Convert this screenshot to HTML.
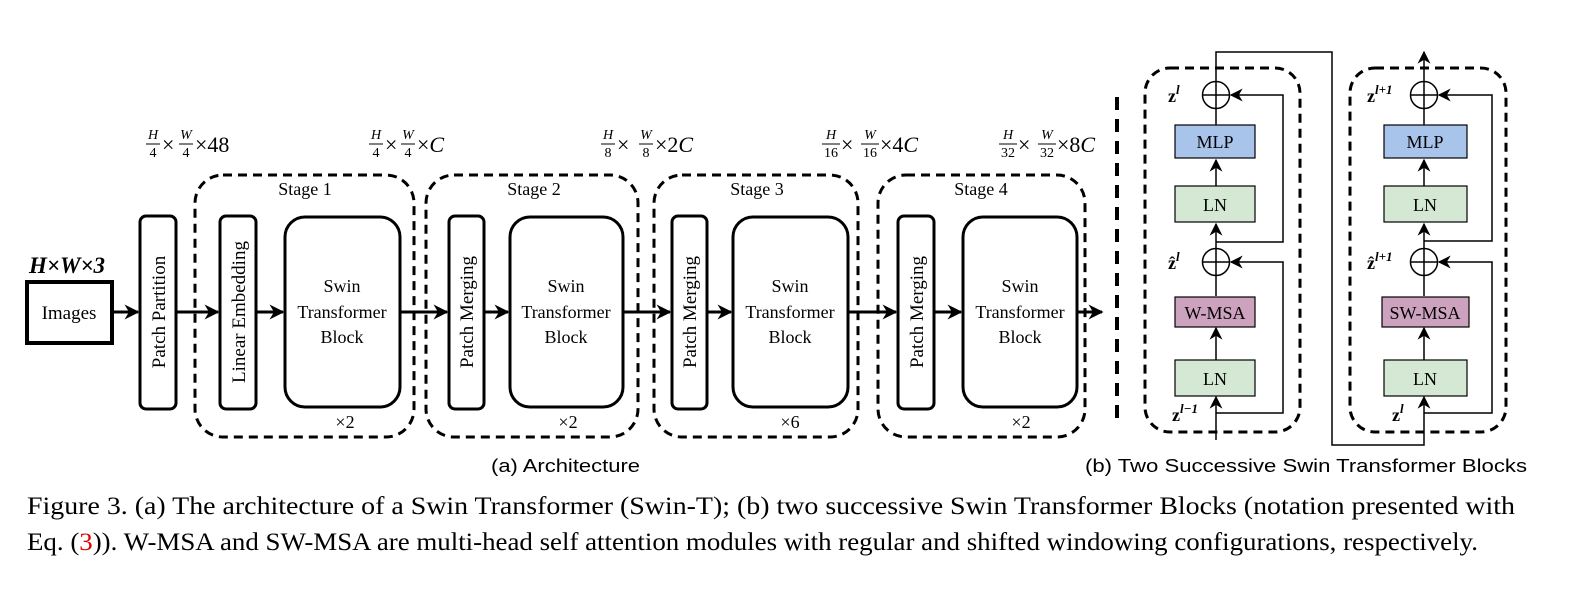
<!DOCTYPE html>
<html><head><meta charset="utf-8"><style>
html,body{margin:0;padding:0;background:#fff;}
svg{display:block;}
.s{font-family:"Liberation Serif",serif;}
.ss{font-family:"Liberation Sans",sans-serif;}
</style></head><body>
<svg width="1578" height="598" viewBox="0 0 1578 598" xmlns="http://www.w3.org/2000/svg">
<defs>
<marker id="ab" viewBox="0 0 10 10" refX="9" refY="5" markerWidth="15" markerHeight="15" orient="auto" markerUnits="userSpaceOnUse">
<path d="M0,0 L10,5 L0,10 L3,5 z" fill="#000"/></marker>
<marker id="as" viewBox="0 0 10 10" refX="9" refY="5" markerWidth="13" markerHeight="13" orient="auto" markerUnits="userSpaceOnUse">
<path d="M0,0 L10,5 L0,10 L3,5 z" fill="#000"/></marker>
</defs>
<g class="s" fill="#000">
<g font-size="14" font-style="italic" text-anchor="middle">
<text x="153" y="139">H</text><text x="153" y="157" font-style="normal">4</text>
<text x="186" y="139">W</text><text x="186" y="157" font-style="normal">4</text>
<text x="376" y="139">H</text><text x="376" y="157" font-style="normal">4</text>
<text x="408" y="139">W</text><text x="408" y="157" font-style="normal">4</text>
<text x="608" y="139">H</text><text x="608" y="157" font-style="normal">8</text>
<text x="646" y="139">W</text><text x="646" y="157" font-style="normal">8</text>
<text x="831" y="139">H</text><text x="831" y="157" font-style="normal">16</text>
<text x="870" y="139">W</text><text x="870" y="157" font-style="normal">16</text>
<text x="1008" y="139">H</text><text x="1008" y="157" font-style="normal">32</text>
<text x="1047" y="139">W</text><text x="1047" y="157" font-style="normal">32</text>
</g>
<g stroke="#000" stroke-width="1">
<line x1="146" y1="144" x2="160" y2="144"/><line x1="179" y1="144" x2="193" y2="144"/>
<line x1="369" y1="144" x2="383" y2="144"/><line x1="401" y1="144" x2="415" y2="144"/>
<line x1="601" y1="144" x2="615" y2="144"/><line x1="639" y1="144" x2="653" y2="144"/>
<line x1="822" y1="144" x2="840" y2="144"/><line x1="861" y1="144" x2="879" y2="144"/>
<line x1="999" y1="144" x2="1017" y2="144"/><line x1="1038" y1="144" x2="1056" y2="144"/>
</g>
<g font-size="22">
<text x="162" y="152">×</text><text x="195" y="152">×48</text>
<text x="385" y="152">×</text><text x="417" y="152">×<tspan font-style="italic">C</tspan></text>
<text x="617" y="152">×</text><text x="655" y="152">×2<tspan font-style="italic">C</tspan></text>
<text x="841" y="152">×</text><text x="880" y="152">×4<tspan font-style="italic">C</tspan></text>
<text x="1018" y="152">×</text><text x="1057" y="152">×8<tspan font-style="italic">C</tspan></text>
</g>
<text x="29" y="273" font-size="23" font-style="italic" font-weight="bold">H×W×3</text>
</g>

<g fill="none" stroke="#000" stroke-width="3" stroke-dasharray="9,6">
<rect x="195" y="175" width="219" height="262" rx="28"/>
<rect x="426" y="175" width="212" height="262" rx="28"/>
<rect x="654" y="175" width="204" height="262" rx="28"/>
<rect x="878" y="175" width="207" height="262" rx="28"/>
<line x1="1117" y1="97" x2="1117" y2="427" stroke-width="4" stroke-dasharray="13,9"/>
<rect x="1145" y="68" width="155" height="364" rx="25"/>
<rect x="1350" y="68" width="156" height="364" rx="25"/>
</g>

<g fill="none" stroke="#000" stroke-width="3">
<rect x="27" y="282" width="85" height="61" stroke-width="4"/>
<rect x="140" y="216" width="36" height="193" rx="6"/>
<rect x="220" y="216" width="36" height="193" rx="6"/>
<rect x="285" y="217" width="115" height="190" rx="20"/>
<rect x="449" y="216" width="35" height="193" rx="6"/>
<rect x="510" y="217" width="113" height="190" rx="20"/>
<rect x="672" y="216" width="35" height="193" rx="6"/>
<rect x="733" y="217" width="115" height="190" rx="20"/>
<rect x="898" y="216" width="36" height="193" rx="6"/>
<rect x="963" y="217" width="114" height="190" rx="20"/>
</g>
<g stroke="#000" stroke-width="3" marker-end="url(#ab)">
<line x1="112" y1="312" x2="138" y2="312"/>
<line x1="176" y1="312" x2="218" y2="312"/>
<line x1="256" y1="312" x2="283" y2="312"/>
<line x1="400" y1="312" x2="447" y2="312"/>
<line x1="484" y1="312" x2="508" y2="312"/>
<line x1="623" y1="312" x2="670" y2="312"/>
<line x1="707" y1="312" x2="731" y2="312"/>
<line x1="848" y1="312" x2="896" y2="312"/>
<line x1="934" y1="312" x2="961" y2="312"/>
<line x1="1077" y1="312" x2="1102" y2="312"/>
</g>
<g class="s" font-size="19" fill="#000" text-anchor="middle">
<text x="69" y="319">Images</text>
<text transform="translate(165,312) rotate(-90)">Patch Partition</text>
<text transform="translate(245,312) rotate(-90)">Linear Embedding</text>
<text transform="translate(473,312) rotate(-90)">Patch Merging</text>
<text transform="translate(696,312) rotate(-90)">Patch Merging</text>
<text transform="translate(923,312) rotate(-90)">Patch Merging</text>
<g font-size="18">
<text x="342" y="292">Swin</text><text x="342" y="318">Transformer</text><text x="342" y="343">Block</text>
<text x="566" y="292">Swin</text><text x="566" y="318">Transformer</text><text x="566" y="343">Block</text>
<text x="790" y="292">Swin</text><text x="790" y="318">Transformer</text><text x="790" y="343">Block</text>
<text x="1020" y="292">Swin</text><text x="1020" y="318">Transformer</text><text x="1020" y="343">Block</text>
<text x="305" y="195">Stage 1</text><text x="534" y="195">Stage 2</text><text x="757" y="195">Stage 3</text><text x="981" y="195">Stage 4</text>
<text x="345" y="428">×2</text><text x="568" y="428">×2</text><text x="790" y="428">×6</text><text x="1021" y="428">×2</text>
</g>
</g>

<g stroke="#000" stroke-width="1.5" fill="none">
<line x1="1216" y1="440" x2="1216" y2="397" marker-end="url(#as)"/>
<polyline points="1216,413 1283,413 1283,262 1231,262" marker-end="url(#as)"/>
<line x1="1216" y1="360" x2="1216" y2="328" marker-end="url(#as)"/>
<line x1="1216" y1="296" x2="1216" y2="276"/>
<line x1="1216" y1="249" x2="1216" y2="224" marker-end="url(#as)"/>
<polyline points="1216,242 1283,242 1283,95 1231,95" marker-end="url(#as)"/>
<line x1="1216" y1="186" x2="1216" y2="160" marker-end="url(#as)"/>
<line x1="1216" y1="125" x2="1216" y2="109"/>
<polyline points="1216,82 1216,52 1332,52 1332,445 1424,445 1424,397" marker-end="url(#as)"/>
<circle cx="1216" cy="95" r="13.5"/><line x1="1202" y1="95" x2="1230" y2="95"/><line x1="1216" y1="81" x2="1216" y2="109"/>
<circle cx="1216" cy="262" r="13.5"/><line x1="1202" y1="262" x2="1230" y2="262"/><line x1="1216" y1="248" x2="1216" y2="276"/>
<polyline points="1424,413 1492,413 1492,262 1439,262" marker-end="url(#as)"/>
<line x1="1424" y1="360" x2="1424" y2="328" marker-end="url(#as)"/>
<line x1="1424" y1="296" x2="1424" y2="276"/>
<line x1="1424" y1="249" x2="1424" y2="224" marker-end="url(#as)"/>
<polyline points="1424,241 1492,241 1492,95 1439,95" marker-end="url(#as)"/>
<line x1="1424" y1="186" x2="1424" y2="160" marker-end="url(#as)"/>
<line x1="1424" y1="125" x2="1424" y2="109"/>
<line x1="1424" y1="82" x2="1424" y2="52" marker-end="url(#as)"/>
<circle cx="1424" cy="95" r="13.5"/><line x1="1410" y1="95" x2="1438" y2="95"/><line x1="1424" y1="81" x2="1424" y2="109"/>
<circle cx="1424" cy="262" r="13.5"/><line x1="1410" y1="262" x2="1438" y2="262"/><line x1="1424" y1="248" x2="1424" y2="276"/>
</g>
<g stroke="#000" stroke-width="1.2">
<rect x="1175" y="125" width="80" height="33" fill="#a9c4eb"/>
<rect x="1175" y="186" width="80" height="36" fill="#d5e8d4"/>
<rect x="1175" y="297" width="80" height="30" fill="#cda2be"/>
<rect x="1175" y="360" width="80" height="36" fill="#d5e8d4"/>
<rect x="1384" y="125" width="83" height="33" fill="#a9c4eb"/>
<rect x="1384" y="186" width="83" height="36" fill="#d5e8d4"/>
<rect x="1382" y="297" width="87" height="30" fill="#cda2be"/>
<rect x="1384" y="360" width="83" height="36" fill="#d5e8d4"/>
</g>
<g class="s" font-size="18" fill="#000" text-anchor="middle">
<text x="1215" y="148">MLP</text><text x="1215" y="211">LN</text><text x="1215" y="319">W-MSA</text><text x="1215" y="385">LN</text>
<text x="1425" y="148">MLP</text><text x="1425" y="211">LN</text><text x="1425" y="319">SW-MSA</text><text x="1425" y="385">LN</text>
</g>
<g class="s" font-weight="bold" fill="#000" font-size="18">
<text x="1168" y="102">z<tspan font-size="13" font-style="italic" dy="-8">l</tspan></text>
<text x="1168" y="269">ẑ<tspan font-size="13" font-style="italic" dy="-8">l</tspan></text>
<text x="1172" y="421">z<tspan font-size="13" font-style="italic" dy="-8">l−1</tspan></text>
<text x="1367" y="102">z<tspan font-size="13" font-style="italic" dy="-8">l+1</tspan></text>
<text x="1367" y="269">ẑ<tspan font-size="13" font-style="italic" dy="-8">l+1</tspan></text>
<text x="1392" y="421">z<tspan font-size="13" font-style="italic" dy="-8">l</tspan></text>
</g>

<g class="ss" font-size="18" fill="#000">
<text x="491" y="472" textLength="149" lengthAdjust="spacingAndGlyphs">(a) Architecture</text>
<text x="1085" y="472" textLength="442" lengthAdjust="spacingAndGlyphs">(b) Two Successive Swin Transformer Blocks</text>
</g>
<g class="s" font-size="25" fill="#000">
<text x="27" y="514" textLength="1488" lengthAdjust="spacingAndGlyphs">Figure 3. (a) The architecture of a Swin Transformer (Swin-T); (b) two successive Swin Transformer Blocks (notation presented with</text>
<text x="27" y="550" textLength="1451" lengthAdjust="spacingAndGlyphs">Eq. (<tspan fill="#e00000">3</tspan>)). W-MSA and SW-MSA are multi-head self attention modules with regular and shifted windowing configurations, respectively.</text>
</g>
</svg>
</body></html>
